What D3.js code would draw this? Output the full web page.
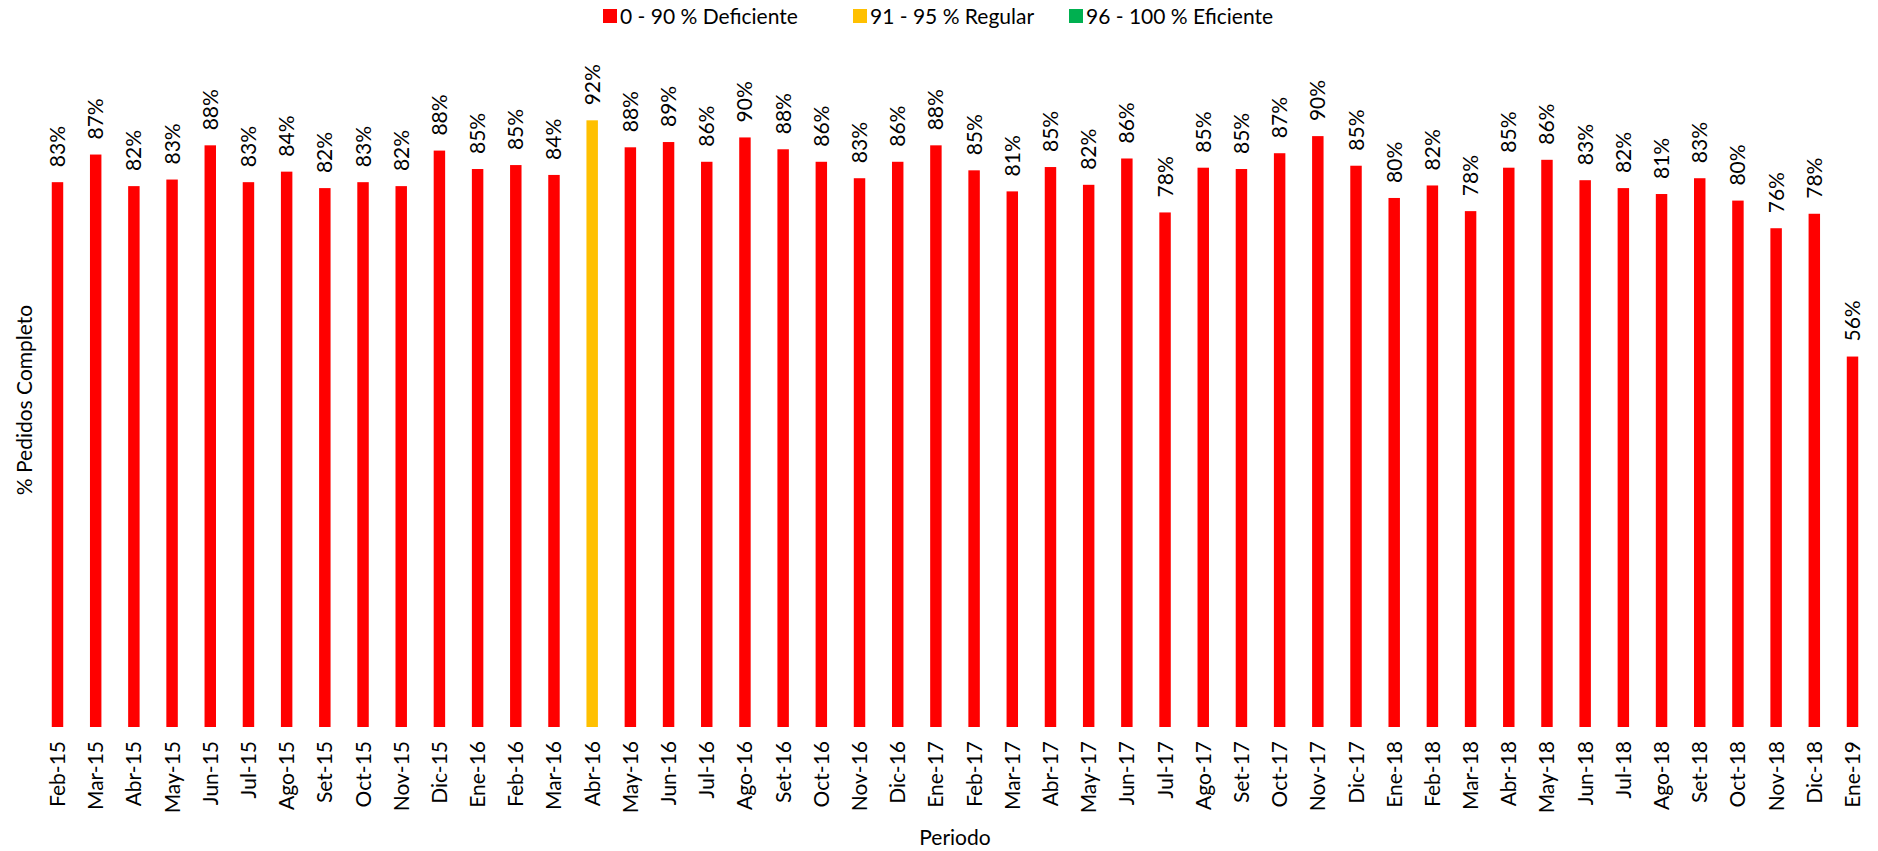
<!DOCTYPE html>
<html>
<head>
<meta charset="utf-8">
<script src="https://cdn.jsdelivr.net/npm/d3@7"></script>
<style>
  html, body { margin: 0; padding: 0; background: #ffffff; }
  svg { display: block; font-family: Lato, "Open Sans", sans-serif; }
</style>
</head>
<body>
<svg id="chart" width="1878" height="851"></svg>
<script>
const periods = ["Feb-15","Mar-15","Abr-15","May-15","Jun-15","Jul-15","Ago-15","Set-15","Oct-15","Nov-15","Dic-15",
  "Ene-16","Feb-16","Mar-16","Abr-16","May-16","Jun-16","Jul-16","Ago-16","Set-16","Oct-16","Nov-16","Dic-16",
  "Ene-17","Feb-17","Mar-17","Abr-17","May-17","Jun-17","Jul-17","Ago-17","Set-17","Oct-17","Nov-17","Dic-17",
  "Ene-18","Feb-18","Mar-18","Abr-18","May-18","Jun-18","Jul-18","Ago-18","Set-18","Oct-18","Nov-18","Dic-18",
  "Ene-19"];
const completeRate = [0.828,0.870,0.822,0.832,0.884,0.828,0.844,0.819,0.828,0.822,0.876,
  0.848,0.854,0.839,0.922,0.881,0.889,0.859,0.896,0.878,0.859,0.834,0.859,
  0.884,0.846,0.814,0.851,0.824,0.864,0.782,0.850,0.848,0.872,0.898,0.853,
  0.804,0.823,0.784,0.850,0.862,0.831,0.819,0.810,0.834,0.800,0.758,0.780,
  0.563];
const legendLabels = ["0 - 90 % Deficiente","91 - 95 % Regular","96 - 100 % Eficiente"];
const legendColors = ["#FF0000","#FFC000","#00B050"];

function colorFor(v) {
  const p = Math.round(v * 100);
  if (p <= 90) return legendColors[0];
  if (p <= 95) return legendColors[1];
  return legendColors[2];
}

const svg = d3.select("#chart");
const y0 = 727, yTop = 69;
const x = d3.scaleBand().domain(periods).range([38.4, 1871.6]).paddingInner(0.7).paddingOuter(0.35);
const y = d3.scaleLinear().domain([0, 1]).range([y0, yTop]);

// bars
svg.append("g").selectAll("rect").data(periods).join("rect")
  .attr("x", d => x(d))
  .attr("y", (d, i) => y(completeRate[i]))
  .attr("width", x.bandwidth())
  .attr("height", (d, i) => y(0) - y(completeRate[i]))
  .attr("fill", (d, i) => colorFor(completeRate[i]));

// data labels
svg.append("g").selectAll("text").data(periods).join("text")
  .attr("transform", (d, i) => `translate(${x(d) + x.bandwidth() / 2 + 7.5},${y(completeRate[i]) - 15}) rotate(-90)`)
  .attr("text-anchor", "start")
  .attr("font-size", 21)
  .attr("fill", "#000")
  .text((d, i) => Math.round(completeRate[i] * 100) + "%");

// x axis
const xAxis = d3.axisBottom(x).tickSize(0).tickPadding(0);
const gx = svg.append("g").attr("transform", `translate(0,${y0})`).call(xAxis);
gx.select(".domain").remove();
gx.selectAll(".tick text")
  .attr("font-size", 21)
  .attr("font-family", "Lato, 'Open Sans', sans-serif")
  .attr("fill", "#000")
  .attr("text-anchor", "end")
  .attr("dy", null)
  .attr("y", 0)
  .attr("transform", "translate(7.5,14) rotate(-90)");

// axis titles
svg.append("text")
  .attr("x", 955).attr("y", 845)
  .attr("text-anchor", "middle")
  .attr("font-size", 21)
  .text("Periodo");
svg.append("text")
  .attr("transform", "translate(32,400) rotate(-90)")
  .attr("text-anchor", "middle")
  .attr("font-size", 21)
  .text("% Pedidos Completo");

// legend
const legendX = [603, 853, 1069];
const lg = svg.append("g").selectAll("g").data(legendLabels).join("g")
  .attr("transform", (d, i) => `translate(${legendX[i]},0)`);
lg.append("rect").attr("x", 0).attr("y", 9).attr("width", 14).attr("height", 14)
  .attr("fill", (d, i) => legendColors[i]);
lg.append("text").attr("x", 17).attr("y", 24).attr("font-size", 21).text(d => d);
</script>
</body>
</html>
